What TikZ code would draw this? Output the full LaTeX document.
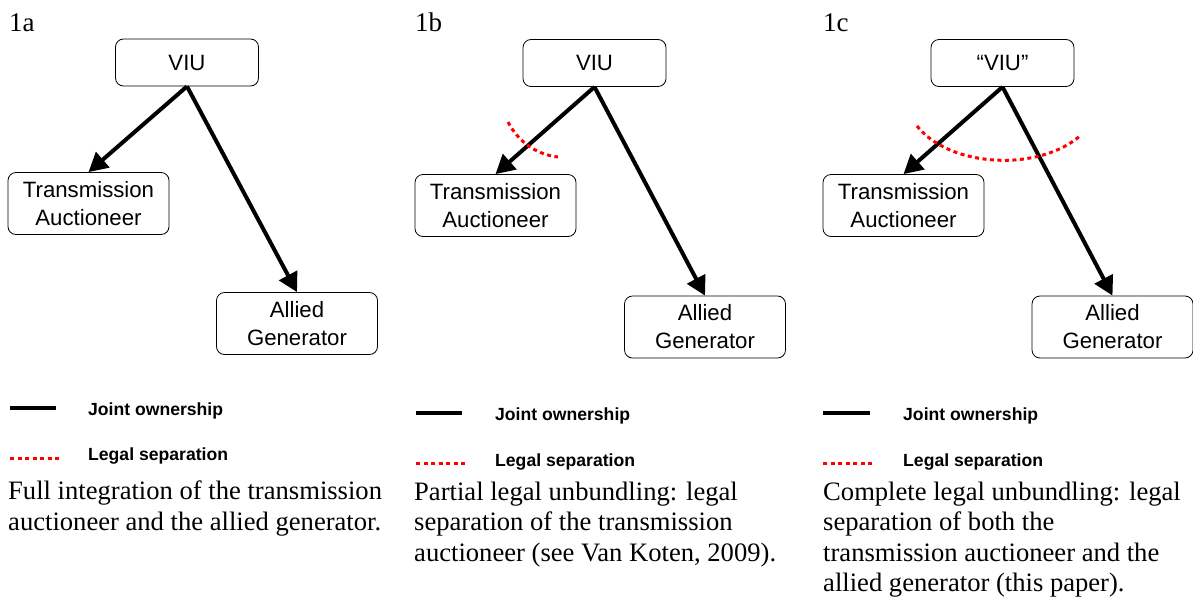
\documentclass[tikz,border=0pt]{standalone}
\usepackage{fontspec}
\setmainfont{Liberation Serif}
\setsansfont{Liberation Sans}
\usetikzlibrary{arrows.meta,positioning}

\begin{document}
\begin{tikzpicture}[
	x=1pt, y=-1pt,
	on grid,
	unit/.style={
		draw,
		rounded corners=8pt,
		line width=0.8pt,
		align=center,
		font=\sffamily\fontsize{22.2}{28}\selectfont,
		minimum width=161pt,
		minimum height=62pt
	},
	top/.style={unit, minimum width=143pt, minimum height=47pt},
	own/.style={line width=4pt, -{Triangle[length=19pt,width=20pt]}},
	sep/.style={red, line width=3pt, dash pattern=on 4pt off 3.5pt},
	key/.style={font=\sffamily\bfseries\fontsize{17.6}{20}\selectfont, anchor=base west, inner sep=0pt},
	tag/.style={font=\fontsize{27}{30}\selectfont, anchor=base west, inner sep=0pt},
	caption/.style={font=\fontsize{26.6}{30.5}\selectfont, align=left, anchor=base west, inner sep=0pt}]

   \useasboundingbox (0,0) rectangle (1193,600);

   % 1a: full integration
   \node[tag] (tagA) at (9,31) {1a};
   \node[top] (viuA) at (187,62.5) {VIU};
   \node[unit, below left=141pt and 98.5pt of viuA] (transA) {Transmission\\Auctioneer};
   \node[unit, below right=261pt and 110pt of viuA] (genA) {Allied\\Generator};
   \draw[own] (viuA.south) -- (transA.north);
   \draw[own] (viuA.south) -- (genA.north);

   \draw[line width=4pt] (10,408) -- (56,408);
   \node[key] (jointA) at (88,415) {Joint ownership};
   \draw[sep] (10,458) -- (60,458);
   \node[key] (legalA) at (88,460.5) {Legal separation};
   % base anchor sits on the last line
   \node[caption] (capA) at (8,530) {Full integration of the transmission\\auctioneer and the allied generator.};

   % 1b: partial legal unbundling
   \node[tag] (tagB) at (415,31) {1b};
   \node[top] (viuB) at (594.5,63) {VIU};
   \node[unit, below left=142.5pt and 99pt of viuB] (transB) {Transmission\\Auctioneer};
   \node[unit, below right=264pt and 110.5pt of viuB] (genB) {Allied\\Generator};
   \draw[own] (viuB.south) -- (transB.north);
   \draw[own] (viuB.south) -- (genB.north);
   \draw[sep] (508,122) .. controls (520,145) and (540,155) .. (558,157);

   \draw[line width=4pt] (416,413) -- (462,413);
   \node[key] (jointB) at (495,420) {Joint ownership};
   \draw[sep] (416,463) -- (466,463);
   \node[key] (legalB) at (495,466) {Legal separation};
   \node[caption] (capB) at (414,561) {Partial legal unbundling: legal\\separation of the transmission\\auctioneer (see Van Koten, 2009).};

   % 1c: complete legal unbundling
   \node[tag] (tagC) at (823,31) {1c};
   \node[top] (viuC) at (1002.5,63) {“VIU”};
   \node[unit, below left=142.5pt and 99pt of viuC] (transC) {Transmission\\Auctioneer};
   \node[unit, below right=264pt and 110pt of viuC] (genC) {Allied\\Generator};
   \draw[own] (viuC.south) -- (transC.north);
   \draw[own] (viuC.south) -- (genC.north);
   \draw[sep] (917,126) .. controls (950,168) and (1040,172) .. (1081,135);

   \draw[line width=4pt] (823,413) -- (870,413);
   \node[key] (jointC) at (903,420) {Joint ownership};
   \draw[sep] (823,463) -- (873,463);
   \node[key] (legalC) at (903,466) {Legal separation};
   \node[caption] (capC) at (823,591.5) {Complete legal unbundling: legal\\separation of both the\\transmission auctioneer and the\\allied generator (this paper).};
\end{tikzpicture}
\end{document}
